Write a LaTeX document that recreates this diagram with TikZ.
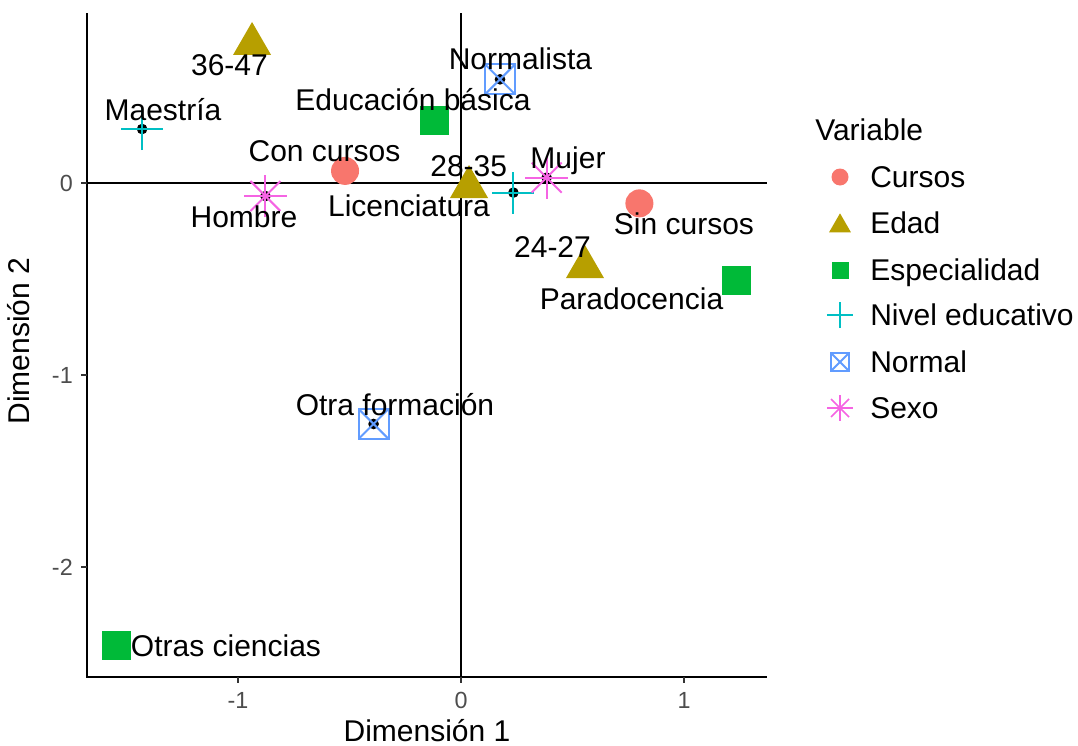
\documentclass[tikz,border=0pt]{standalone}
\usepackage{fontspec}
\setmainfont{Liberation Sans}
\usetikzlibrary{shapes.geometric,shapes.misc}

\definecolor{cursoscol}{HTML}{F8766D}
\definecolor{edadcol}{HTML}{B79F00}
\definecolor{espcol}{HTML}{00BA38}
\definecolor{nivelcol}{HTML}{00BFC4}
\definecolor{normalcol}{HTML}{619CFF}
\definecolor{sexocol}{HTML}{F564E3}
\definecolor{tickgrey}{HTML}{4D4D4D}
\definecolor{tickdark}{HTML}{333333}

\tikzset{
  mk/.style={inner sep=0pt, outer sep=0pt},
  cursosmk/.style={mk, circle, fill=cursoscol, minimum size=#1},
  cursosmk/.default=21pt,
  edadmk/.style={mk, regular polygon, regular polygon sides=3, fill=edadcol, minimum size=#1},
  edadmk/.default=33pt,
  espmk/.style={mk, rectangle, fill=espcol, minimum size=#1},
  espmk/.default=21.75pt,
  nivelmk/.style={mk, cross out, draw=nivelcol, line width=1.5pt, rotate=45, minimum size=#1},
  nivelmk/.default=22.3pt,
  normalmk/.style={mk, rectangle, draw=normalcol, line width=1.5pt, minimum size=#1,
    path picture={\draw[normalcol, line width=1.5pt]
      (path picture bounding box.north west) -- (path picture bounding box.south east)
      (path picture bounding box.north east) -- (path picture bounding box.south west);}},
  normalmk/.default=22.5pt,
  sexomk/.style={mk, cross out, draw=sexocol, line width=1.5pt, minimum size=#1,
    label={[nivelmk=#1, draw=sexocol]center:}},
  sexomk/.default=22.5pt,
  lbl/.style={inner sep=0pt, font=\fontsize{22.5}{27}\selectfont},
  ticklbl/.style={inner sep=0pt, text=tickgrey, font=\fontsize{17.5}{21}\selectfont},
  axisline/.style={line width=1.8pt, black},
  tickline/.style={line width=1.8pt, tickdark}
}

\begin{document}
\begin{tikzpicture}[x=0.75pt, y=-0.75pt]
  \useasboundingbox (0,0) rectangle (1078,746);

  % axes and zero lines
  \draw[axisline] (87,13) -- (87,677) -- (767,677);
  \draw[axisline] (461,13) -- (461,677);
  \draw[axisline] (87,183) -- (767,183);
  \foreach \x/\t in {238/-1, 461/0, 684/1} {
    \draw[tickline] (\x,677) -- (\x,683);
    \node[ticklbl, anchor=base] (xt\t) at (\x,708) {\t};
  }
  \foreach \y/\t in {183/0, 375/-1, 567/-2} {
    \draw[tickline] (81,\y) -- (87,\y);
    \node[ticklbl, anchor=east] (yt\t) at (73,\y) {\t};
  }
  \node[lbl, anchor=base] (xtitle) at (427,741) {Dimensión 1};
  \node[lbl, rotate=90, anchor=base] (ytitle) at (29,341) {Dimensión 2};

  % points, in data units
  \begin{scope}[shift={(461,183)}, x=167.25pt, y=144pt]
    \coordinate (p3647) at (-0.937, 0.724);
    \coordinate (maestria) at (-1.430, 0.281);
    \coordinate (concursos) at (-0.520, 0.063);
    \coordinate (hombre) at (-0.877, -0.068);
    \coordinate (edubasica) at (-0.119, 0.323);
    \coordinate (normalista) at (0.175, 0.540);
    \coordinate (p2835) at (0.036, -0.021);
    \coordinate (licenciatura) at (0.235, -0.050);
    \coordinate (mujer) at (0.384, 0.028);
    \coordinate (sincursos) at (0.800, -0.106);
    \coordinate (p2427) at (0.556, -0.438);
    \coordinate (paradocencia) at (1.235, -0.510);
    \coordinate (otraformacion) at (-0.392, -1.255);
    \coordinate (otrasciencias) at (-1.543, -2.411);
  \end{scope}

  \foreach \p in {maestria, licenciatura, normalista, otraformacion, hombre, mujer}
    \fill (\p) circle (4pt);

  \node[cursosmk] (m-concursos) at (concursos) {};
  \node[cursosmk] (m-sincursos) at (sincursos) {};
  \node[edadmk] (m-3647) at (p3647) {};
  \node[edadmk] (m-2835) at (p2835) {};
  \node[edadmk] (m-2427) at (p2427) {};
  \node[espmk] (m-edubasica) at (edubasica) {};
  \node[espmk] (m-paradocencia) at (paradocencia) {};
  \node[espmk] (m-otrasciencias) at (otrasciencias) {};
  \node[nivelmk] (m-maestria) at (maestria) {};
  \node[nivelmk] (m-licenciatura) at (licenciatura) {};
  \node[normalmk] (m-normalista) at (normalista) {};
  \node[normalmk] (m-otraformacion) at (otraformacion) {};
  \node[sexomk] (m-hombre) at (hombre) {};
  \node[sexomk] (m-mujer) at (mujer) {};

  % point labels
  \node[lbl, anchor=base] (l-3647) at (229.5,75) {36-47};
  \node[lbl, anchor=base] (l-maestria) at (163,120) {Maestría};
  \node[lbl, anchor=base] (l-concursos) at (324.5,161) {Con cursos};
  \node[lbl, anchor=base] (l-hombre) at (244,227) {Hombre};
  \node[lbl, anchor=base] (l-edubasica) at (413,110.5) {Educación básica};
  \node[lbl, anchor=base] (l-normalista) at (520.5,69.3) {Normalista};
  \node[lbl, anchor=base] (l-2835) at (468.7,176.7) {28-35};
  \node[lbl, anchor=base] (l-licenciatura) at (409,216.7) {Licenciatura};
  \node[lbl, anchor=base] (l-mujer) at (568,168.3) {Mujer};
  \node[lbl, anchor=base] (l-sincursos) at (684,234) {Sin cursos};
  \node[lbl, anchor=base] (l-2427) at (552.5,257.3) {24-27};
  \node[lbl, anchor=base] (l-paradocencia) at (631.5,309.3) {Paradocencia};
  \node[lbl, anchor=base] (l-otraformacion) at (395,415) {Otra formación};
  \node[lbl, anchor=base] (l-otrasciencias) at (226,656) {Otras ciencias};

  % legend
  \node[lbl, anchor=base west] (legtitle) at (815,140) {Variable};
  \node[cursosmk=12.75pt] (k-cursos) at (840,177) {};
  \node[edadmk=19pt] (k-edad) at (840,226) {};
  \node[espmk=12.75pt] (k-esp) at (840,270) {};
  \node[nivelmk=13.8pt, line width=1.2pt] (k-nivel) at (840,315) {};
  \node[normalmk=13.5pt, line width=1.2pt] (k-normal) at (840,362) {};
  \node[sexomk=13.5pt, line width=1.2pt] (k-sexo) at (840,408) {};
  \node[lbl, anchor=base west] (lg-cursos) at (870,187) {Cursos};
  \node[lbl, anchor=base west] (lg-edad) at (870,233) {Edad};
  \node[lbl, anchor=base west] (lg-esp) at (870,280) {Especialidad};
  \node[lbl, anchor=base west] (lg-nivel) at (870,325) {Nivel educativo};
  \node[lbl, anchor=base west] (lg-normal) at (870,372) {Normal};
  \node[lbl, anchor=base west] (lg-sexo) at (870,418) {Sexo};
\end{tikzpicture}
\end{document}
